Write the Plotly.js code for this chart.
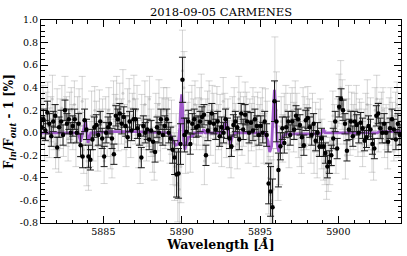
<!DOCTYPE html>
<html>
<head>
<meta charset="utf-8">
<script src="https://cdn.plot.ly/plotly-3.0.1.min.js"></script>
<style>
html,body{margin:0;padding:0;background:#fff;}
#chart{width:407px;height:256px;}
</style>
</head>
<body>
<div id="chart"></div>
<script>
// ---------- DATA ----------
// binned (black) points: wavelength grid start & step [Å]
const binStart = 5881.05;
const binStep = 0.125;
// binned values [%], 8 per Ångström, 5881 .. 5903
const binVals = [
  0.05, 0.12, 0.02, 0.18, 0.08, -0.03, 0.10, 0.15,
  -0.13, 0.05, 0.10, -0.02, 0.20, 0.08, 0.12, 0.00,
  0.06, 0.12, 0.00, 0.08, -0.11, -0.21, 0.11, 0.03,
  -0.21, -0.24, -0.06, 0.05, 0.07, -0.02, 0.10, -0.05,
  -0.21, 0.00, 0.05, 0.08, -0.05, -0.19, 0.15, 0.12,
  0.17, 0.08, 0.14, 0.06, -0.04, 0.10, 0.02, 0.12,
  0.12, 0.04, -0.02, -0.22, 0.06, 0.00, 0.03, -0.06,
  0.02, -0.08, -0.17, 0.05, 0.00, 0.12, -0.02, 0.06,
  0.12, 0.00, -0.05, -0.15, -0.22, -0.37, -0.36, -0.10,
  0.47, -0.02, 0.01, 0.10, -0.10, 0.08, 0.12, 0.05,
  0.06, 0.10, 0.14, 0.16, -0.20, 0.02, 0.09, 0.17,
  0.08, 0.03, 0.10, -0.03, 0.05, 0.00, 0.12, 0.04,
  -0.05, -0.12, 0.07, 0.10, 0.05, -0.06, 0.17, 0.03,
  0.16, 0.10, 0.00, 0.09, 0.02, 0.12, 0.06, -0.02,
  0.06, 0.00, 0.10, -0.02, -0.45, -0.52, -0.66, 0.28,
  0.10, -0.33, -0.12, 0.04, -0.09, 0.05, 0.10, -0.02,
  0.10, 0.03, 0.15, 0.12, 0.07, -0.04, -0.11, 0.11,
  0.13, 0.05, -0.02, 0.08, -0.07, 0.00, -0.12, -0.05,
  -0.12, -0.18, -0.30, -0.26, -0.20, -0.05, 0.10, -0.14,
  0.23, 0.30, 0.20, 0.08, -0.16, 0.03, 0.10, -0.03,
  0.10, 0.07, 0.00, 0.09, 0.04, -0.07, -0.04, 0.06,
  0.03, -0.10, -0.14, 0.15, 0.17, 0.04, 0.00, 0.08,
  0.00, -0.08, 0.04, 0.12, 0.03, -0.06, 0.08, -0.02
];
const binErrs = [
  0.09, 0.09, 0.09, 0.10, 0.09, 0.09, 0.09, 0.10,
  0.09, 0.09, 0.10, 0.09, 0.09, 0.09, 0.09, 0.09,
  0.09, 0.09, 0.09, 0.09, 0.10, 0.10, 0.10, 0.09,
  0.10, 0.09, 0.09, 0.09, 0.09, 0.09, 0.09, 0.09,
  0.09, 0.09, 0.09, 0.09, 0.09, 0.09, 0.09, 0.09,
  0.09, 0.09, 0.09, 0.09, 0.09, 0.09, 0.09, 0.09,
  0.09, 0.09, 0.09, 0.09, 0.09, 0.09, 0.09, 0.09,
  0.09, 0.09, 0.09, 0.09, 0.09, 0.09, 0.09, 0.09,
  0.09, 0.09, 0.10, 0.12, 0.15, 0.20, 0.22, 0.18,
  0.20, 0.15, 0.12, 0.10, 0.09, 0.09, 0.09, 0.09,
  0.09, 0.09, 0.09, 0.09, 0.09, 0.09, 0.09, 0.09,
  0.09, 0.09, 0.09, 0.09, 0.09, 0.09, 0.09, 0.09,
  0.09, 0.09, 0.09, 0.09, 0.09, 0.09, 0.09, 0.09,
  0.09, 0.09, 0.09, 0.09, 0.09, 0.09, 0.09, 0.09,
  0.09, 0.09, 0.09, 0.10, 0.18, 0.22, 0.25, 0.18,
  0.18, 0.15, 0.12, 0.10, 0.09, 0.09, 0.09, 0.09,
  0.09, 0.09, 0.09, 0.09, 0.09, 0.09, 0.09, 0.09,
  0.09, 0.09, 0.09, 0.09, 0.09, 0.09, 0.09, 0.09,
  0.09, 0.09, 0.10, 0.10, 0.09, 0.09, 0.09, 0.09,
  0.09, 0.09, 0.09, 0.09, 0.09, 0.09, 0.09, 0.09,
  0.09, 0.09, 0.09, 0.09, 0.09, 0.09, 0.09, 0.09,
  0.09, 0.09, 0.09, 0.09, 0.09, 0.09, 0.09, 0.09,
  0.09, 0.09, 0.09, 0.09, 0.09, 0.09, 0.09, 0.09
];

// unbinned (grey) points: wavelength grid start & step [Å]
const rawStart = 5881.05;
const rawStep = 0.1;
const rawVals = [
  0.10, 0.20, -0.05, 0.15, 0.25, 0.00, 0.12, 0.30, 0.05, -0.10,
  0.18, -0.15, 0.08, 0.22, 0.00, 0.30, 0.10, -0.05, 0.15, 0.20,
  0.05, 0.25, -0.08, 0.12, 0.18, -0.02, 0.28, -0.15, 0.10, -0.25,
  -0.30, -0.10, 0.15, -0.05, 0.20, 0.08, -0.12, 0.18, 0.00, 0.10,
  -0.25, 0.10, 0.00, 0.20, -0.10, -0.20, 0.25, 0.12, 0.30, 0.05,
  0.22, 0.10, 0.35, 0.05, -0.08, 0.18, 0.28, 0.00, 0.15, 0.30,
  0.10, 0.20, -0.10, -0.25, 0.12, 0.05, 0.25, -0.05, 0.10, 0.30,
  0.00, -0.15, -0.20, 0.15, 0.05, 0.25, -0.05, 0.10, 0.20, 0.08,
  0.20, 0.10, -0.05, 0.05, -0.20, -0.30, -0.15, -0.45, -0.50, -0.30,
  0.55, 0.40, -0.10, 0.05, 0.15, -0.15, 0.20, 0.10, 0.25, 0.05,
  0.10, 0.20, 0.30, 0.05, -0.25, 0.10, 0.15, 0.25, 0.00, 0.20,
  0.15, -0.05, 0.20, 0.05, 0.12, -0.10, 0.28, 0.15, 0.00, 0.10,
  -0.10, -0.20, 0.10, 0.20, 0.05, -0.10, 0.30, 0.15, 0.00, 0.10,
  0.25, 0.15, -0.05, 0.10, 0.05, 0.20, 0.10, -0.10, 0.15, 0.05,
  0.10, 0.20, -0.05, 0.15, 0.00, -0.40, -0.55, -0.60, -0.50, 0.45,
  0.20, -0.30, -0.20, 0.10, -0.05, 0.15, 0.20, 0.05, -0.10, 0.15,
  0.20, 0.05, 0.25, 0.15, 0.00, -0.10, -0.15, 0.20, 0.10, 0.05,
  0.20, 0.10, -0.05, 0.15, -0.15, 0.05, -0.20, 0.00, 0.10, -0.10,
  -0.20, -0.25, -0.35, -0.30, -0.25, -0.10, 0.15, 0.05, -0.15, 0.10,
  0.30, 0.40, 0.25, 0.10, -0.20, 0.10, 0.20, 0.00, 0.15, 0.05,
  0.15, 0.20, 0.00, 0.10, 0.05, -0.10, 0.00, 0.15, 0.25, 0.05,
  0.10, -0.15, -0.20, 0.20, 0.30, 0.05, 0.10, 0.15, 0.20, 0.00,
  0.05, -0.10, 0.10, 0.20, 0.05, -0.05, 0.15, 0.25, 0.00, 0.10
];
const rawErrs = [
  0.20, 0.22, 0.20, 0.21, 0.20, 0.22, 0.20, 0.21, 0.20, 0.22,
  0.21, 0.20, 0.22, 0.20, 0.21, 0.20, 0.22, 0.20, 0.21, 0.20,
  0.20, 0.21, 0.22, 0.20, 0.21, 0.20, 0.22, 0.21, 0.20, 0.22,
  0.21, 0.20, 0.22, 0.20, 0.21, 0.20, 0.22, 0.20, 0.21, 0.20,
  0.20, 0.22, 0.21, 0.20, 0.22, 0.20, 0.21, 0.22, 0.20, 0.21,
  0.22, 0.20, 0.21, 0.20, 0.22, 0.21, 0.20, 0.22, 0.20, 0.21,
  0.20, 0.22, 0.21, 0.20, 0.22, 0.20, 0.21, 0.20, 0.22, 0.20,
  0.21, 0.20, 0.22, 0.20, 0.21, 0.22, 0.20, 0.21, 0.20, 0.22,
  0.20, 0.21, 0.22, 0.24, 0.26, 0.30, 0.32, 0.34, 0.34, 0.32,
  0.36, 0.32, 0.26, 0.22, 0.21, 0.20, 0.22, 0.20, 0.21, 0.20,
  0.21, 0.20, 0.22, 0.20, 0.21, 0.20, 0.22, 0.21, 0.20, 0.22,
  0.20, 0.22, 0.21, 0.20, 0.22, 0.20, 0.21, 0.20, 0.22, 0.20,
  0.21, 0.20, 0.22, 0.20, 0.21, 0.22, 0.20, 0.21, 0.20, 0.22,
  0.20, 0.21, 0.22, 0.20, 0.21, 0.20, 0.22, 0.20, 0.21, 0.20,
  0.21, 0.20, 0.22, 0.24, 0.28, 0.32, 0.34, 0.36, 0.36, 0.40,
  0.34, 0.30, 0.26, 0.22, 0.21, 0.20, 0.22, 0.20, 0.21, 0.20,
  0.20, 0.22, 0.21, 0.20, 0.22, 0.20, 0.21, 0.20, 0.22, 0.20,
  0.21, 0.20, 0.22, 0.20, 0.21, 0.22, 0.20, 0.21, 0.20, 0.22,
  0.22, 0.21, 0.24, 0.22, 0.21, 0.20, 0.22, 0.20, 0.21, 0.20,
  0.22, 0.24, 0.22, 0.20, 0.21, 0.20, 0.22, 0.20, 0.21, 0.20,
  0.20, 0.22, 0.21, 0.20, 0.22, 0.20, 0.21, 0.20, 0.22, 0.20,
  0.21, 0.20, 0.22, 0.20, 0.21, 0.22, 0.20, 0.21, 0.20, 0.22,
  0.20, 0.22, 0.21, 0.20, 0.22, 0.20, 0.21, 0.20, 0.22, 0.20
];

// model (purple) curve knots
const modelWl = [
  5881.0, 5883.40, 5883.55, 5883.70, 5883.87, 5884.02, 5884.20, 5885.5,
  5887.0, 5889.20, 5889.40, 5889.60, 5889.78, 5889.88, 5889.94, 5890.00,
  5890.06, 5890.12, 5890.20, 5890.30, 5890.42, 5890.70, 5890.80, 5891.30,
  5891.40, 5891.50, 5892.50, 5892.70, 5892.85, 5892.97, 5893.10, 5893.25,
  5893.40, 5895.30, 5895.50, 5895.62, 5895.74, 5895.84, 5895.92, 5896.00,
  5896.10, 5896.20, 5896.32, 5896.45, 5896.70, 5898.90, 5899.05, 5899.15,
  5899.30, 5902.50, 5902.60, 5904.0
];
const modelVal = [
  0.00, 0.00, -0.08, 0.00, 0.11, -0.09, 0.00, 0.01,
  0.01, 0.00, -0.06, -0.11, -0.10, 0.05, 0.25, 0.34,
  0.22, -0.06, -0.15, -0.10, -0.04, -0.03, 0.00, 0.00,
  0.03, 0.00, 0.00, 0.04, 0.12, 0.00, -0.10, -0.03,
  0.00, 0.00, -0.07, -0.17, -0.12, 0.18, 0.38, 0.22,
  -0.10, -0.17, -0.12, -0.03, -0.01, -0.01, 0.03, 0.00,
  0.00, 0.00, 0.01, 0.01
];

// tick labels
const xTickVals = [5885, 5890, 5895, 5900];
const xTickText = ['5885', '5890', '5895', '5900'];
const yTickVals = [-0.8, -0.6, -0.4, -0.2, 0.0, 0.2, 0.4, 0.6, 0.8, 1.0];
const yTickText = ['-0.8', '-0.6', '-0.4', '-0.2', '0.0', '0.2', '0.4', '0.6', '0.8', '1.0'];

// ---------- BUILD ----------
const binWl = binVals.map((_, i) => binStart + i * binStep);
const rawWl = rawVals.map((_, i) => rawStart + i * rawStep);

const FONT = 'DejaVu Serif, Liberation Serif, serif';

const traces = [
  {
    x: rawWl, y: rawVals, type: 'scatter', mode: 'markers',
    marker: {size: 3, color: 'rgba(130,130,130,0.3)'},
    error_y: {type: 'data', array: rawErrs, visible: true,
              color: 'rgba(140,140,140,0.36)', thickness: 1, width: 3.5},
    hoverinfo: 'skip', showlegend: false
  },
  {
    x: modelWl, y: modelVal, type: 'scatter', mode: 'lines',
    line: {color: '#a05acb', width: 2.8},
    hoverinfo: 'skip', showlegend: false
  },
  {
    x: binWl, y: binVals, type: 'scatter', mode: 'markers',
    marker: {size: 4.5, color: '#000'},
    error_y: {type: 'data', array: binErrs, visible: true,
              color: '#1a1a1a', thickness: 1, width: 3.5},
    hoverinfo: 'skip', showlegend: false
  }
];

const axisCommon = {
  showline: true, linecolor: '#000', linewidth: 1, mirror: 'ticks',
  ticks: 'inside', ticklen: 7, tickwidth: 1, tickcolor: '#000',
  showgrid: false, zeroline: false,
  tickfont: {family: FONT, size: 9.5, color: '#000'}
};

const layout = {
  width: 407, height: 256,
  margin: {l: 41, r: 6, t: 20, b: 33},
  paper_bgcolor: '#fff', plot_bgcolor: '#fff',
  title: {
    text: '2018-09-05 CARMENES',
    font: {family: FONT, size: 11.5, color: '#000'},
    x: 0.543, xanchor: 'center', y: 0.955, yanchor: 'middle'
  },
  xaxis: Object.assign({}, axisCommon, {
    range: [5881.02, 5904.0],
    tickmode: 'array', tickvals: xTickVals, ticktext: xTickText,
    minor: {dtick: 1, tick0: 5880, ticks: 'inside', ticklen: 3.5, tickwidth: 1, tickcolor: '#000'},
    title: {text: '<b>Wavelength [<i>Å</i>]</b>', font: {family: FONT, size: 12.5, color: '#000'}, standoff: 3}
  }),
  yaxis: Object.assign({}, axisCommon, {
    range: [-0.8, 1.0],
    tickmode: 'array', tickvals: yTickVals, ticktext: yTickText,
    minor: {dtick: 0.05, tick0: 0, ticks: 'inside', ticklen: 3.5, tickwidth: 1, tickcolor: '#000'},
    title: {text: '<b>F<sub><i>in</i></sub>/F<sub><i>out</i></sub> - 1 [%]</b>', font: {family: FONT, size: 12, color: '#000'}, standoff: 3}
  })
};

Plotly.newPlot('chart', traces, layout, {staticPlot: true, displayModeBar: false});
</script>
</body>
</html>
